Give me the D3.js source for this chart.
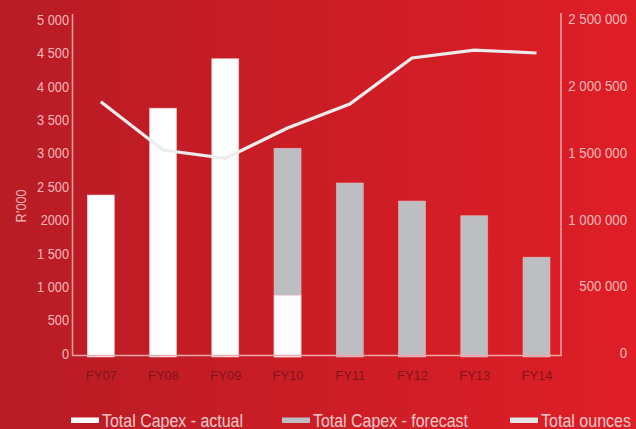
<!DOCTYPE html>
<html><head><meta charset="utf-8">
<script src="https://cdn.jsdelivr.net/npm/d3@7"></script>
<style>
html,body{margin:0;padding:0;overflow:hidden;}
svg{display:block;font-family:"Liberation Sans",Arial,sans-serif;}
</style></head>
<body>
<svg id="c" width="636" height="429"></svg>
<script>
const categories = ["FY07","FY08","FY09","FY10","FY11","FY12","FY13","FY14"];
const capexActual = [2380, 3680, 4420, 880, 0, 0, 0, 0];
const capexForecast = [0, 0, 0, 3080, 2560, 2290, 2070, 1450];
const totalOunces = [1888000, 1527000, 1464000, 1692000, 1871000, 2216000, 2275000, 2253000];
const leftTicks = [0,500,1000,1500,2000,2500,3000,3500,4000,4500,5000];
const leftTickLabels = ["0","500","1 000","1 500","2000","2 500","3 000","3 500","4 000","4 500","5 000"];
const rightTicks = [0,500000,1000000,1500000,2000000,2500000];
const rightTickLabels = ["0","500 000","1 000 000","1 500 000","2 000 500","2 500 000"];
const legendLabels = ["Total Capex - actual","Total Capex - forecast","Total ounces"];

const W=636,H=429;
const svg=d3.select("#c");
const defs=svg.append("defs");
const g=defs.append("linearGradient").attr("id","bg").attr("x1","0").attr("x2","1").attr("y1","0").attr("y2","0");
g.append("stop").attr("offset","0").attr("stop-color","#b81c25");
g.append("stop").attr("offset","1").attr("stop-color","#df1e26");
svg.append("rect").attr("width",W).attr("height",H).attr("fill","url(#bg)");

const x=d3.scalePoint().domain(categories).range([100.8,536.5]);
const bw=27;
const yL=d3.scaleLinear().domain([0,5000]).range([354,20]);
const yR=d3.scaleLinear().domain([0,2500000]).range([354,20]);
const axisCol="#f2a7aa";
const labCol="#f4b9bb";

// bars forecast
svg.append("g").selectAll("rect").data(categories.map((c,i)=>({c,v:capexForecast[i]})).filter(d=>d.v>0))
 .join("rect").attr("x",d=>x(d.c)-bw/2).attr("width",bw)
 .attr("y",d=>yL(d.v)).attr("height",d=>357-yL(d.v))
 .attr("fill","#bdbec2").attr("stroke","#e6b0b3").attr("stroke-width",0.6);
svg.append("g").selectAll("rect").data(categories.map((c,i)=>({c,v:capexActual[i]})).filter(d=>d.v>0))
 .join("rect").attr("x",d=>x(d.c)-bw/2).attr("width",bw)
 .attr("y",d=>yL(d.v)).attr("height",d=>357-yL(d.v))
 .attr("fill","#ffffff").attr("stroke","#f0c4c6").attr("stroke-width",0.6);

// axes lines
svg.append("line").attr("x1",72.5).attr("x2",72.5).attr("y1",14).attr("y2",356).attr("stroke",axisCol).attr("stroke-width",1.5);
svg.append("line").attr("x1",561).attr("x2",561).attr("y1",13).attr("y2",356).attr("stroke",axisCol).attr("stroke-width",1.5);
svg.append("line").attr("x1",72).attr("x2",561.5).attr("y1",355.5).attr("y2",355.5).attr("stroke",axisCol).attr("stroke-width",1.5);

// left axis via d3.axisLeft
const la=svg.append("g").attr("transform","translate(69,0)")
 .call(d3.axisLeft(yL).tickValues(leftTicks).tickSize(0).tickPadding(0).tickFormat((d,i)=>leftTickLabels[i]));
la.select(".domain").remove();
la.selectAll("text").attr("x",0).attr("fill",labCol).attr("font-size","14.5px").attr("font-family","inherit").attr("dy","0.3em").attr("transform","scale(0.88,1)");

const ra=svg.append("g").attr("transform","translate(627,0)")
 .call(d3.axisLeft(yR).tickValues(rightTicks).tickSize(0).tickPadding(0).tickFormat((d,i)=>rightTickLabels[i]));
ra.select(".domain").remove();
ra.selectAll("text").attr("x",0).attr("fill",labCol).attr("font-size","14.5px").attr("font-family","inherit").attr("dy","0.25em").attr("transform","scale(0.91,1)");

// x axis
const xa=svg.append("g").attr("transform","translate(0,380)")
 .call(d3.axisBottom(x).tickSize(0).tickPadding(0));
xa.select(".domain").remove();
xa.selectAll("text").attr("y",0).attr("dy","0").attr("fill","#6f1419").attr("fill-opacity",0.85).attr("font-size","13px").attr("font-family","inherit");

// y label
svg.append("text").attr("transform","translate(26,206) rotate(-90) scale(0.9,1)").attr("text-anchor","middle")
 .attr("fill",labCol).attr("font-size","14px").text("R’000");

// line
const line=d3.line().x((d,i)=>x(categories[i])).y(d=>yR(d));
svg.append("path").datum(totalOunces).attr("d",line).attr("fill","none").attr("stroke","#ececec").attr("stroke-width",3.2).attr("stroke-linejoin","miter");

// legend
const legCols=["#ffffff","#bdbec2","#e6e6e6"];
const legX=[71,282,510];
const legW=[141,155,90];
const lg=svg.append("g");
legendLabels.forEach((t,i)=>{
  lg.append("rect").attr("x",legX[i]).attr("y",417.5).attr("width",28).attr("height",5.5).attr("fill",legCols[i]);
  lg.append("text").attr("x",legX[i]+31).attr("y",427).attr("fill","#f6c9cb").attr("font-size","19px")
    .attr("textLength",legW[i]).attr("lengthAdjust","spacingAndGlyphs").text(t);
});
</script>
</body></html>
